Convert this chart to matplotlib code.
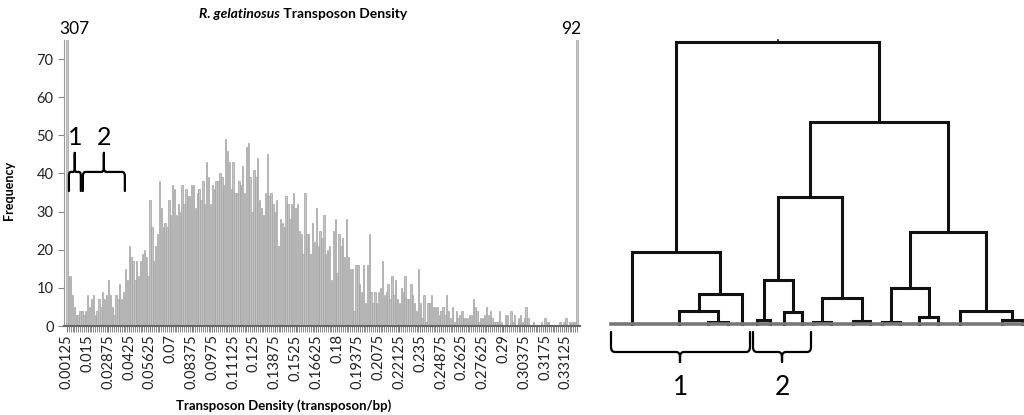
import numpy as np
import matplotlib.pyplot as plt
from matplotlib.path import Path
from matplotlib.patches import PathPatch

plt.rcParams['font.family'] = ['Lato', 'DejaVu Sans']

# transposon density histogram, bin width 0.00125 (first and last bins are off scale)
counts = [307, 13, 13, 8, 5, 3, 3, 4, 4, 3, 4,
          8, 5, 7, 8, 3, 4, 7, 5, 9, 7, 8,
          12, 8, 5, 3, 8, 7, 11, 7, 9, 15, 12,
          21, 18, 17, 12, 17, 13, 17, 19, 20, 18, 13,
          33, 26, 17, 21, 24, 38, 31, 26, 27, 26,
          33, 29, 37, 36, 29, 32, 30, 37, 32, 36, 34, 34, 37, 37, 31, 35, 36, 33, 38, 32,
          43, 39, 32, 37, 36, 38, 38, 40, 39, 37, 49, 46, 43, 36, 43, 35, 35, 38, 37, 42,
          35, 47, 48, 39, 30, 41, 39, 44, 33, 31, 29, 35, 45, 34, 35, 32, 30, 33, 21,
          28, 27, 26, 34, 32, 28, 32, 35, 31, 32, 25, 24, 19, 35, 24, 24, 19, 27, 22, 31,
          21, 25, 23, 29, 19, 20, 21, 12, 25, 28, 14, 24, 21, 23, 18, 28, 18, 15, 15, 4,
          16, 16, 11, 9, 16, 6, 16, 24, 9, 6, 9, 6, 9, 10, 17, 8,
          9, 11, 7, 13, 8, 12, 7, 6, 10, 9, 13, 7, 7, 11, 8, 6, 4, 15, 6, 2,
          8, 1, 6, 6, 8, 5, 5, 5, 3, 4, 5, 3, 8, 4, 2, 5, 1, 4, 2, 3,
          4, 2, 2, 2, 3, 3, 7, 5, 4, 1, 2, 2, 3, 5, 3, 4,
          2, 1, 1, 1, 4, 1, 0, 3, 3, 0, 4, 1, 3, 0, 2, 3, 1, 2, 5, 2,
          0, 0, 1, 0, 0, 0, 1, 0, 2, 1, 1, 0, 0, 0, 0, 0, 1, 0, 1, 2,
          0, 1, 1, 1, 1, 92]
tick_labels = ["0.00125", "0.015", "0.02875", "0.0425", "0.05625", "0.07",
               "0.08375", "0.0975", "0.11125", "0.125", "0.13875", "0.1525",
               "0.16625", "0.18", "0.19375", "0.2075", "0.22125", "0.235",
               "0.24875", "0.2625", "0.27625", "0.29", "0.30375", "0.3175", "0.33125"]
tick_step = 11

# dendrogram: leaf positions, then merges (node a, node b, height); new nodes get ids 20, 21, ...
leaf_x = [632, 679, 708, 728, 742, 757, 770, 784, 802, 813,
          831, 853, 870, 882, 900, 919, 938, 960, 1002, 1022]
merges = [(2, 3, 2), (1, 20, 13), (21, 4, 30), (0, 22, 72),
          (5, 6, 4), (7, 8, 12), (24, 25, 44),
          (9, 10, 2), (11, 12, 3), (27, 28, 26), (26, 29, 127),
          (13, 14, 2), (15, 16, 7), (31, 32, 36),
          (18, 19, 4), (17, 34, 13), (33, 35, 92),
          (30, 36, 202), (23, 37, 282)]


def brace(ax, x0, x1, y_end, y_mid, y_tip, xc, rx, ry, **kw):
    s = np.sign(y_mid - y_end)
    verts, codes = [], []
    for xe, d in [(x0, 1), (x1, -1)]:
        verts += [(xe, y_end), (xe, y_mid - s * ry), (xe, y_mid), (xe + d * rx, y_mid),
                  (xc - d * rx, y_mid), (xc, y_mid), (xc, y_mid + s * ry), (xc, y_tip)]
        codes += [Path.MOVETO, Path.LINETO, Path.CURVE3, Path.CURVE3,
                  Path.LINETO, Path.CURVE3, Path.CURVE3, Path.LINETO]
    ax.add_patch(PathPatch(Path(verts, codes), fill=False, capstyle='round', **kw))


fig = plt.figure(figsize=(10.24, 4.15), dpi=100)

# ---- histogram ----
ax = fig.add_axes([64 / 1024, 89 / 415, 516 / 1024, 286 / 415])
x = np.arange(len(counts))
ax.bar(x, counts, width=0.72, color='#c4c4c4', edgecolor='#a2a2a2', linewidth=0.5)
ax.set_xlim(-1.5, len(counts) + 0.5)
ax.set_ylim(0, 75)
ax.set_yticks(range(0, 71, 10))
ax.set_xticks(np.arange(len(tick_labels)) * tick_step)
ax.set_xticklabels(tick_labels, rotation=90, fontsize=10.5, color='#222222')
ax.set_xticks(x, minor=True)
ax.tick_params(axis='y', labelsize=10.5, colors='#222222', length=4, color='#888888')
ax.tick_params(axis='x', which='both', length=4, color='#777777', pad=2)
for side in ['top', 'right']:
    ax.spines[side].set_visible(False)
ax.spines['left'].set_color('#999999')
ax.spines['bottom'].set_color('#666666')
ax.spines['bottom'].set_linewidth(1.5)

ax.text(x[0] + 4.2, 78, str(counts[0]), ha='center', va='center', fontsize=12.5, clip_on=False)
ax.text(x[-1] - 3, 78, str(counts[-1]), ha='center', va='center', fontsize=12.5, clip_on=False)

ax.set_ylabel('Frequency', fontsize=9, fontweight='bold')
ax.yaxis.set_label_coords(-0.095, 0.475)
ax.set_xlabel('Transposon Density (transposon/bp)', fontsize=9.5, fontweight='bold')
ax.xaxis.set_label_coords(0.426, -0.255)

t1 = fig.text(199 / 1024, 1 - 14 / 415, 'R. gelatinosus', fontsize=10,
              fontweight='bold', fontstyle='italic', ha='left', va='center')
ax.annotate(' Transposon Density', xy=(1, 0.5), xycoords=t1, fontsize=10,
            fontweight='bold', ha='left', va='center')

# group braces on the histogram
brace(ax, 1.1, 7.4, 35.4, 40.4, 45.4, 4.2, 0.9, 1.0, color='black', lw=1.6)
brace(ax, 8.5, 30.7, 35.4, 40.4, 45.4, 19.6, 1.5, 1.0, color='black', lw=1.6)
ax.text(4.2, 49.5, '1', ha='center', va='center', fontsize=18)
ax.text(19.6, 49.5, '2', ha='center', va='center', fontsize=18)

# ---- dendrogram ----
ad = fig.add_axes([590 / 1024, 0, 434 / 1024, 1])
ad.set_xlim(590, 1024)
ad.set_ylim(-91, 324)
ad.axis('off')

pos = {i: (xv, 0) for i, xv in enumerate(leaf_x)}
nid = len(leaf_x)
for a, b, h in merges:
    xa, ha = pos[a]
    xb, hb = pos[b]
    ad.plot([xa, xa, xb, xb], [ha, h, h, hb], color='#111111', lw=2.2, solid_joinstyle='miter')
    pos[nid] = ((xa + xb) / 2, h)
    nid += 1
xr, hr = pos[nid - 1]
ad.plot([xr, xr], [hr, hr + 2], color='#111111', lw=1.2)
ad.plot([leaf_x[0] - 21, 1024], [0, 0], color='#777777', lw=2.6, zorder=3)

brace(ad, 611, 750, -8, -28, -38, 680, 4, 5, color='black', lw=1.6)
brace(ad, 753, 811, -8, -28, -38, 782, 4, 5, color='black', lw=1.6)
ad.text(681, -63, '1', ha='center', va='center', fontsize=19)
ad.text(782, -63, '2', ha='center', va='center', fontsize=19)

fig.savefig('out.png', dpi=100)
